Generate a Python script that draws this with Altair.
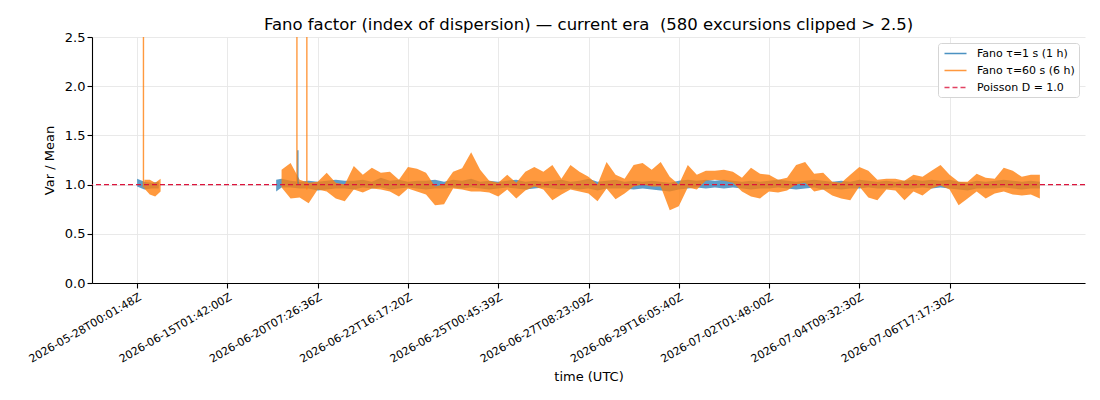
import json
import pandas as pd
import altair as alt

TITLE = "Fano factor (index of dispersion) \u2014 current era \u00a0(580 excursions clipped > 2.5)"
SERIES = ["Fano \u03c4=1 s (1 h)", "Fano \u03c4=60 s (6 h)", "Poisson D = 1.0"]
COLORS = ["#1f77b4", "#ff7f0e", "#dc143c"]
POISSON = 1.0

TICK_IDX = [0, 100, 200, 300, 400, 500, 600, 700, 800, 900]
TICK_LABELS = [
    "2026-05-28T00:01:48Z", "2026-06-15T01:42:00Z", "2026-06-20T07:26:36Z",
    "2026-06-22T16:17:20Z", "2026-06-25T00:45:39Z", "2026-06-27T08:23:09Z",
    "2026-06-29T16:05:40Z", "2026-07-02T01:48:00Z", "2026-07-04T09:32:30Z",
    "2026-07-06T17:17:30Z",
]

# --- Fano tau=1 s (blue): local high / low envelope per sample bin ---
BLUE_SEG1_X = [0, 8, 16, 24]
BLUE_SEG1_HI = [1.06, 1.03, 1.02, 1.03]
BLUE_SEG1_LO = [0.98, 0.95, 0.96, 0.96]

BLUE_SEG2_X = [154] + list(range(160, 1001, 10))
BLUE_SEG2_HI = [1.05,
                1.06, 1.04, 1.03, 1.04, 1.03, 1.04, 1.05, 1.04, 1.04, 1.05,
                1.03, 1.07, 1.04, 1.05, 1.03, 1.04, 1.04, 1.05, 1.03, 1.05,
                1.04, 1.06, 1.03, 1.04, 1.03, 1.04, 1.05, 1.03, 1.04, 1.03,
                1.04, 1.05, 1.03, 1.04, 1.06, 1.03, 1.04, 1.05, 1.03, 1.04,
                1.03, 1.04, 1.03, 1.02, 1.04, 1.05, 1.04, 1.05, 1.04, 1.05,
                1.04, 1.03, 1.04, 1.03, 1.04, 1.05, 1.04, 1.03, 1.04, 1.05,
                1.04, 1.03, 1.04, 1.03, 1.05, 1.04, 1.03, 1.04, 1.03, 1.04,
                1.05, 1.04, 1.05, 1.04, 1.05, 1.03, 1.02, 1.04, 1.03, 1.04,
                1.05, 1.04, 1.03, 1.04, 1.03]
BLUE_SEG2_LO = [0.93,
                0.97, 0.97, 0.96, 0.96, 0.94, 0.95, 0.96, 0.96, 0.95, 0.97,
                0.96, 0.97, 0.95, 0.96, 0.97, 0.96, 0.95, 0.96, 0.96, 0.97,
                0.96, 0.97, 0.96, 0.95, 0.96, 0.97, 0.96, 0.95, 0.96, 0.97,
                0.96, 0.95, 0.96, 0.95, 0.96, 0.94, 0.96, 0.96, 0.96, 0.95,
                0.96, 0.95, 0.94, 0.93, 0.95, 0.96, 0.97, 0.96, 0.97, 0.96,
                0.97, 0.96, 0.95, 0.96, 0.96, 0.97, 0.96, 0.95, 0.96, 0.97,
                0.95, 0.96, 0.95, 0.96, 0.96, 0.97, 0.96, 0.96, 0.97, 0.96,
                0.96, 0.97, 0.96, 0.97, 0.96, 0.95, 0.94, 0.96, 0.96, 0.96,
                0.97, 0.96, 0.95, 0.96, 0.96]

# --- Fano tau=60 s (orange) ---
ORANGE_SEG1_X = [8, 14, 20, 26]
ORANGE_SEG1_HI = [1.05, 1.05, 1.02, 1.06]
ORANGE_SEG1_LO = [0.96, 0.90, 0.88, 0.93]

ORANGE_SEG2_X = list(range(160, 1001, 10))
ORANGE_SEG2_HI = [1.15, 1.22, 1.05, 1.02, 1.03, 1.12, 1.02, 1.00, 1.19, 1.10,
                  1.17, 1.12, 1.13, 1.05, 1.18, 1.16, 1.12, 0.98, 1.00, 1.13,
                  1.165, 1.33, 1.15, 1.04, 1.02, 1.10, 1.02, 1.13, 1.18, 1.13,
                  1.20, 1.06, 1.20, 1.13, 1.08, 1.00, 1.23, 1.10, 1.06, 1.20,
                  1.22, 1.15, 1.23, 1.08, 1.00, 1.20, 1.10, 1.14, 1.14, 1.15,
                  1.13, 1.07, 1.17, 1.11, 1.10, 1.05, 1.07, 1.20, 1.23, 1.11,
                  1.12, 1.03, 1.02, 1.10, 1.18, 1.14, 1.05, 1.06, 1.06, 1.04,
                  1.10, 1.08, 1.14, 1.20, 1.10, 1.03, 1.03, 1.11, 1.07, 1.06,
                  1.17, 1.14, 1.08, 1.10, 1.10]
ORANGE_SEG2_LO = [0.97, 0.86, 0.87, 0.81, 0.95, 0.93, 0.86, 0.83, 0.95, 0.92,
                  0.96, 0.95, 0.93, 0.88, 0.96, 0.93, 0.90, 0.79, 0.80, 0.96,
                  0.95, 0.93, 0.93, 0.92, 0.88, 0.95, 0.86, 0.94, 0.98, 0.95,
                  0.84, 0.90, 0.95, 0.93, 0.91, 0.83, 0.96, 0.85, 0.91, 0.98,
                  1.00, 0.98, 0.98, 0.74, 0.78, 0.97, 0.95, 1.04, 1.05, 1.04,
                  1.02, 0.93, 0.88, 0.86, 0.93, 0.92, 0.94, 1.00, 1.02, 0.93,
                  0.95, 0.89, 0.86, 0.84, 0.98, 0.87, 0.84, 0.95, 0.94, 0.84,
                  0.93, 0.89, 0.96, 0.99, 0.95, 0.79, 0.86, 0.93, 0.86, 0.91,
                  0.93, 0.90, 0.89, 0.90, 0.86]

# isolated excursions (orange ones clipped at the 2.5 limit)
SPIKE_COLOR_IDX = [0, 1, 1, 1]
SPIKE_X = [178, 7, 177, 188]
SPIKE_BASE = [1.00, 0.97, 1.00, 0.95]
SPIKE_TOP = [1.35, 2.5, 2.5, 2.5]

FONT = "DejaVu Sans"


def band_rows(seg, xs, his, los):
    return [dict(seg=seg, x=x, hi=h, lo=l) for x, h, l in zip(xs, his, los)]


blue_band = pd.DataFrame(band_rows("b1", BLUE_SEG1_X, BLUE_SEG1_HI, BLUE_SEG1_LO)
                         + band_rows("b2", BLUE_SEG2_X, BLUE_SEG2_HI, BLUE_SEG2_LO))
orange_band = pd.DataFrame(band_rows("o1", ORANGE_SEG1_X, ORANGE_SEG1_HI, ORANGE_SEG1_LO)
                           + band_rows("o2", ORANGE_SEG2_X, ORANGE_SEG2_HI, ORANGE_SEG2_LO))
spikes = pd.DataFrame(dict(x=SPIKE_X, base=SPIKE_BASE, top=SPIKE_TOP,
                           col=[COLORS[i] for i in SPIKE_COLOR_IDX]))
poisson = pd.DataFrame(dict(series=[SERIES[2]], y=[POISSON]))

label_expr = json.dumps(TICK_LABELS) + "[round(datum.value / 100)]"

x_scale = alt.Scale(domain=[-50, 1050], nice=False, zero=False)
y_scale = alt.Scale(domain=[0, 2.5], nice=False, zero=False)
color_scale = alt.Scale(domain=SERIES, range=COLORS)
dash_scale = alt.Scale(domain=SERIES, range=[[1, 0], [1, 0], [5, 3]])

x_enc = alt.X("x:Q", scale=x_scale, title="time (UTC)",
              axis=alt.Axis(values=TICK_IDX, labelExpr=label_expr, labelAngle=-30,
                            labelAlign="right", labelBaseline="top", labelFontSize=11,
                            labelPadding=3, titlePadding=6, labelOverlap=False,
                            labelBound=False))
y_axis = alt.Axis(values=[0, 0.5, 1.0, 1.5, 2.0, 2.5], format=".1f", labelFontSize=13,
                  titlePadding=8)

blue_area = alt.Chart(blue_band).mark_area(color=COLORS[0], opacity=0.72, clip=True).encode(
    x=x_enc, y=alt.Y("lo:Q", scale=y_scale, axis=y_axis, title="Var / Mean"), y2="hi:Q",
    detail="seg:N")
orange_area = alt.Chart(orange_band).mark_area(color=COLORS[1], opacity=0.8, clip=True).encode(
    x="x:Q", y="lo:Q", y2="hi:Q", detail="seg:N")
spike_rules = alt.Chart(spikes).mark_rule(strokeWidth=1.4, opacity=0.8, clip=True).encode(
    x="x:Q", y="base:Q", y2="top:Q", color=alt.Color("col:N", scale=None))
poisson_rule = alt.Chart(poisson).mark_rule(strokeWidth=1.3).encode(
    y="y:Q",
    color=alt.Color("series:N", scale=color_scale, legend=alt.Legend(title=None)),
    strokeDash=alt.StrokeDash("series:N", scale=dash_scale, legend=alt.Legend(title=None)))

chart = alt.layer(
    blue_area, orange_area, spike_rules, poisson_rule
).properties(
    width=993, height=246,
    title=alt.TitleParams(TITLE, fontSize=16.5, fontWeight="normal", font=FONT,
                          color="black", offset=-2, anchor="middle"),
    autosize=alt.AutoSizeParams(type="none"),
    padding={"left": 84, "top": 29, "right": 7, "bottom": 101},
).configure_view(stroke=None).configure_axis(
    labelFont=FONT, titleFont=FONT, titleFontSize=13, titleFontWeight="normal",
    labelColor="black", titleColor="black", domainColor="black", domainWidth=1.1,
    tickColor="black", tickSize=5, tickWidth=1.1, gridColor="#e6e6e6", gridWidth=0.9,
).configure_legend(
    orient="top-right", offset=6, labelFont=FONT, labelFontSize=11, labelColor="black",
    symbolType="M-2,0H2", symbolSize=121, symbolStrokeWidth=1.5, fillColor="white",
    strokeColor="#d5d5d5", cornerRadius=3, padding=4, rowPadding=5, symbolOffset=7,
    labelOffset=15,
)

chart.save("out.html", embed_options={"renderer": "svg", "actions": False})
